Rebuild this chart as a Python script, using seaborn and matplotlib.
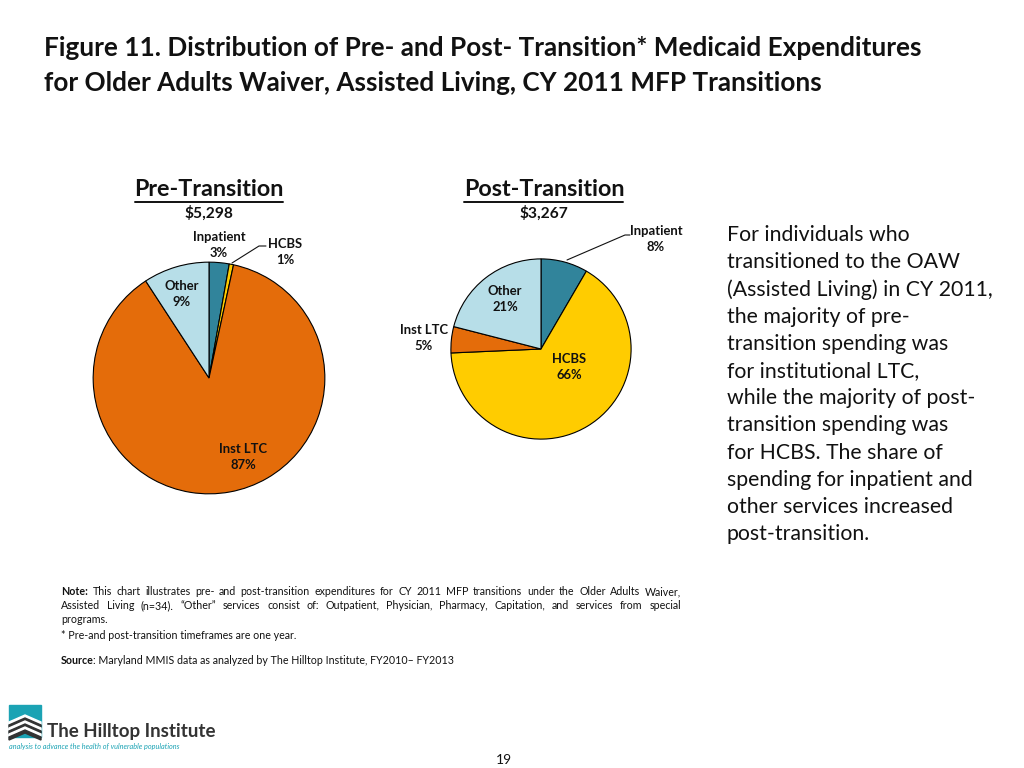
import matplotlib
matplotlib.use("Agg")
import matplotlib.pyplot as plt
import seaborn as sns
from matplotlib.patches import Rectangle, Polygon
from matplotlib.lines import Line2D

# data
categories = ["Inpatient", "HCBS", "Inst LTC", "Other"]
pre_values = [2.8, 0.6, 87.4, 9.2]
post_values = [8.4, 65.9, 4.7, 21.0]
pre_labels = ["3%", "1%", "87%", "9%"]
post_labels = ["8%", "66%", "5%", "21%"]
pre_total = "$5,298"
post_total = "$3,267"
slice_colors = ["#31849B", "#FFCC00", "#E46C0A", "#B7DEE8"]

sns.set_theme(style="white")
plt.rcParams["font.family"] = ["Lato", "DejaVu Sans"]

W, H = 1024, 768
fig = plt.figure(figsize=(10.24, 7.68), dpi=100)
fig.patch.set_facecolor("white")
INK = "#111111"


def px(x, y):
    return x / W, 1 - y / H


def ftext(x, y, s, **kw):
    return fig.text(*px(x, y), s, **kw)


def pie_axes(cx, cy, r):
    return fig.add_axes([(cx - r) / W, (H - cy - r) / H, 2 * r / W, 2 * r / H])


palette = sns.color_palette(slice_colors)

# title
ftext(44, 48, "Figure 11. Distribution of Pre- and Post- Transition* Medicaid Expenditures",
      fontsize=18.8, fontweight="bold", va="center", color=INK)
ftext(44, 83, "for Older Adults Waiver, Assisted Living, CY 2011 MFP Transitions",
      fontsize=18.8, fontweight="bold", va="center", color=INK)

# pies
for (cx, cy, r), vals in [((209, 378, 117), pre_values), ((541, 349, 91), post_values)]:
    ax = pie_axes(cx, cy, r)
    ax.pie(vals, colors=palette, startangle=90, counterclock=False,
           wedgeprops=dict(edgecolor="black", linewidth=0.8))
    ax.set_xlim(-1.01, 1.01)
    ax.set_ylim(-1.01, 1.01)
    ax.axis("off")

# pie headers
for x, head, total, x0, x1 in [(209, "Pre-Transition", pre_total, 135, 283),
                               (544, "Post-Transition", post_total, 464, 623)]:
    ftext(x, 189, head, fontsize=16.8, fontweight="bold", ha="center", va="center", color=INK)
    fig.add_artist(Line2D([x0 / W, x1 / W], [1 - 202 / H] * 2, color=INK, lw=1.4))
    ftext(x, 213, total, fontsize=11.2, fontweight="bold", ha="center", va="center", color=INK)

lab = dict(fontsize=9.4, fontweight="bold", ha="center", va="center", color=INK,
           linespacing=1.45)
# pre labels
ftext(219, 245, f"{categories[0]}\n{pre_labels[0]}", **lab)
ftext(285, 252, f"{categories[1]}\n{pre_labels[1]}", **lab)
ftext(182, 294, f"{categories[3]}\n{pre_labels[3]}", **lab)
ftext(243, 457, f"{categories[2]}\n{pre_labels[2]}", **lab)
fig.add_artist(Line2D([266 / W, 259 / W, 232 / W], [1 - 246 / H, 1 - 246 / H, 1 - 263 / H],
                      color=INK, lw=0.8))
# post labels
ftext(656, 239, f"{categories[0]}\n{post_labels[0]}", **lab)
ftext(505, 299, f"{categories[3]}\n{post_labels[3]}", **lab)
ftext(424, 338, f"{categories[2]}\n{post_labels[2]}", **lab)
ftext(569, 367, f"{categories[1]}\n{post_labels[1]}", **lab)
fig.add_artist(Line2D([630 / W, 625 / W, 567 / W], [1 - 235 / H, 1 - 235 / H, 1 - 260 / H],
                      color=INK, lw=0.8))

# side text
side_lines = ["For individuals who", "transitioned to the OAW", "(Assisted Living) in CY 2011,",
              "the majority of pre-", "transition spending was", "for institutional LTC,",
              "while the majority of post-", "transition spending was", "for HCBS. The share of",
              "spending for inpatient and", "other services increased", "post-transition."]
for i, line in enumerate(side_lines):
    ftext(727, 235 + 27.2 * i, line, fontsize=15.3, va="center", ha="left", color=INK)

# notes (justified lines), placed on baselines
renderer = fig.canvas.get_renderer()
NOTE_SIZE = 7.65
small = dict(fontsize=NOTE_SIZE, va="baseline", ha="left", color=INK)


def justified(y, tokens, x0, x1):
    texts = [ftext(0, y, w, fontweight="bold" if b else "normal", **small) for w, b in tokens]
    widths = [t.get_window_extent(renderer).width for t in texts]
    gap = (x1 - x0 - sum(widths)) / (len(texts) - 1)
    x = x0
    for t, w in zip(texts, widths):
        t.set_position(px(x, y))
        x += w + gap


line1 = "This chart illustrates pre- and post-transition expenditures for CY 2011 MFP transitions under the Older Adults Waiver,"
line2 = "Assisted Living (n=34). \u201cOther\u201d services consist of: Outpatient, Physician,  Pharmacy, Capitation, and services from special"
justified(595, [("Note:", True)] + [(w, False) for w in line1.split()], 61, 681)
justified(609, [(w, False) for w in line2.split()], 61, 681)
ftext(61, 623, "programs.", **small)
ftext(61, 639, "* Pre-and post-transition timeframes are one year.", **small)
t = ftext(61, 664, "Source", fontweight="bold", **small)
wsrc = t.get_window_extent(renderer).width
ftext(60 + wsrc, 664, ": Maryland MMIS data as analyzed by The Hilltop Institute, FY2010\u2013 FY2013", **small)

# logo
fig.add_artist(Rectangle(px(9, 737), 32 / W, 32 / H, color="#1BA3B4"))
for i, c in enumerate(["white", "#333333", "white", "#333333", "white", "#333333"]):
    y0 = 719 + i * 3
    fig.add_artist(Polygon([px(9, y0 + 3), px(25, y0 - 4), px(41, y0 + 3),
                            px(41, y0 + 6), px(25, y0 - 1), px(9, y0 + 6)],
                           closed=True, color=c))
ftext(47, 731, "The Hilltop Institute", fontsize=13.5, fontweight="bold", va="center",
      color="#333333")
ftext(9, 746, "analysis to advance the health of vulnerable populations", fontsize=5.2,
      style="italic", va="center", color="#1BA3B4")

ftext(504, 760, "19", fontsize=10, ha="center", va="center", color=INK)

fig.savefig("out.png", dpi=100)
